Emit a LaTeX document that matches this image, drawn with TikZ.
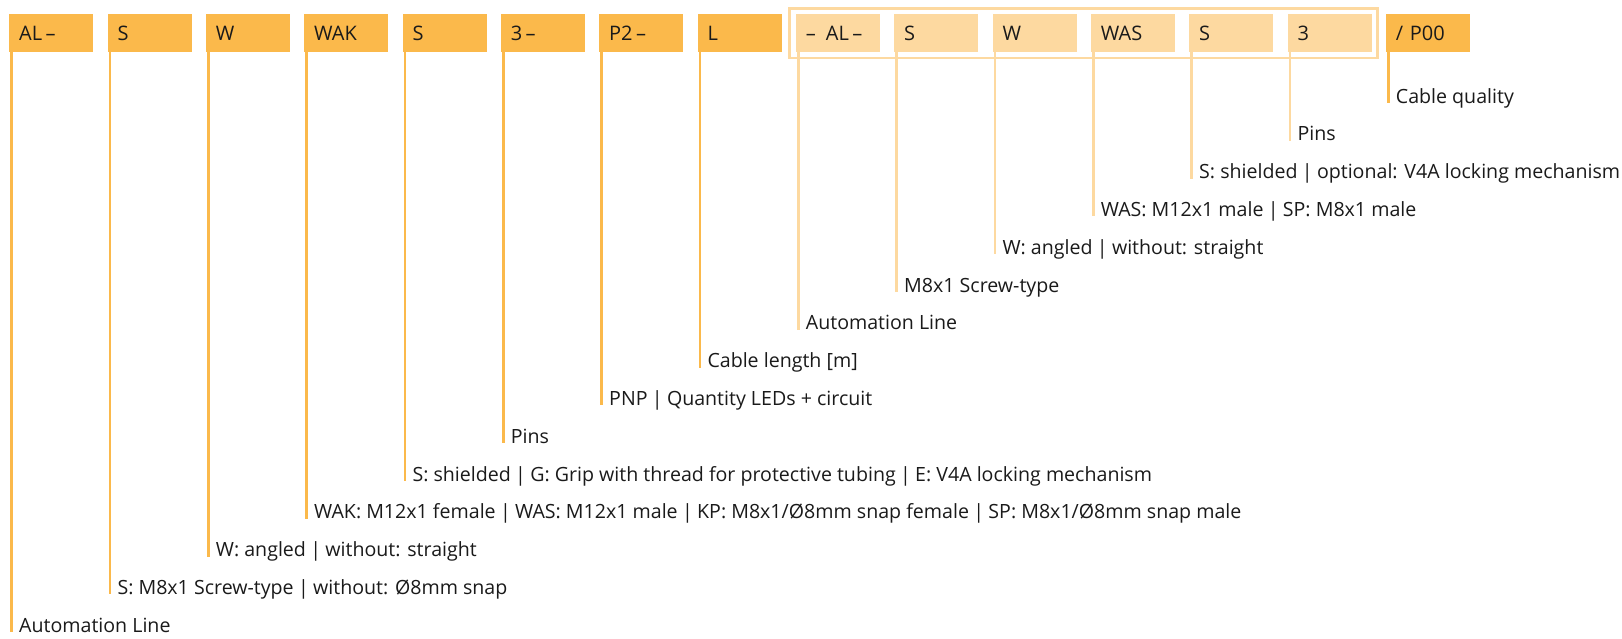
\documentclass[tikz,border=0pt]{standalone}
\usepackage{fontspec}
\setmainfont{Open Sans}
\usepackage{tikz}
\usetikzlibrary{calc,fit}

\definecolor{codedark}{HTML}{FBB94B}
\definecolor{codelight}{HTML}{FDD9A0}
\definecolor{codetext}{HTML}{1A1A1A}

\newcommand{\orbar}{\hspace{0.22em}|\hspace{0.22em}}

\tikzset{
  codebox/.style={anchor=north west, minimum width=84pt, minimum height=38pt,
    text width=64pt, inner xsep=10pt, inner ysep=0pt, text height=15pt, text depth=0pt,
    align=left, text=codetext, font=\fontsize{20}{24}\selectfont},
  darkbox/.style={codebox, fill=codedark},
  lightbox/.style={codebox, fill=codelight},
  expl/.style={anchor=base west, inner sep=0pt, text=codetext, font=\fontsize{19.6}{24}\selectfont},
  darkline/.style={draw=codedark, line width=2.6pt},
  lightline/.style={draw=codelight, line width=2.6pt},
}

\begin{document}
\begin{tikzpicture}[x=1pt,y=-1pt]
            \useasboundingbox (0,0) rectangle (1622,638);
            % code boxes
            \node[darkbox] (al) at (9,14) {AL\,--};
            \node[darkbox] (s) at (107.3,14) {S};
            \node[darkbox] (w) at (205.7,14) {W};
            \node[darkbox] (wak) at (304,14) {WAK};
            \node[darkbox] (s2) at (402.3,14) {S};
            \node[darkbox] (pin) at (500.7,14) {3\,--};
            \node[darkbox] (pnp) at (599,14) {P2\,--};
            \node[darkbox] (len) at (697.3,14) {L};
            \node[lightbox] (alb) at (795.7,14) {--\ \,AL\,--};
            \node[lightbox] (sb) at (894,14) {S};
            \node[lightbox] (wb) at (992.3,14) {W};
            \node[lightbox] (was) at (1090.7,14) {WAS};
            \node[lightbox] (sb2) at (1189,14) {S};
            \node[lightbox] (pinb) at (1287.3,14) {3};
            \node[darkbox] (qual) at (1385.7,14) {/ P00};
            % frame round the second plug
            \node[fit=(alb)(pinb), draw=codelight, line width=2.7pt, inner xsep=6pt, inner ysep=5.5pt] (plug) {};
            % explanations
            \node[expl] (lqual) at (1395.7,103) {Cable quality};
            \node[expl] (lpinb) at (1297.3,140.8) {Pins};
            \node[expl] (lsb2) at (1199,178.6) {S: shielded\orbar optional: V4A locking mechanism};
            \node[expl] (lwas) at (1100.7,216.4) {WAS: M12x1 male\orbar SP: M8x1 male};
            \node[expl] (lwb) at (1002.3,254.2) {W: angled\orbar without: straight};
            \node[expl] (lsb) at (904,292) {M8x1 Screw-type};
            \node[expl] (lalb) at (805.7,329.8) {Automation Line};
            \node[expl] (llen) at (707.3,367.6) {Cable length [m]};
            \node[expl] (lpnp) at (609,405.4) {PNP\orbar Quantity LEDs + circuit};
            \node[expl] (lpin) at (510.7,443.2) {Pins};
            \node[expl] (ls2) at (412.3,481) {S: shielded\orbar G: Grip with thread for protective tubing\orbar E: V4A locking mechanism};
            \node[expl] (lwak) at (314,518.8) {WAK: M12x1 female\orbar WAS: M12x1 male\orbar KP: M8x1/Ø8mm snap female\orbar SP: M8x1/Ø8mm snap male};
            \node[expl] (lw) at (215.7,556.6) {W: angled\orbar without: straight};
            \node[expl] (ls) at (117.3,594.4) {S: M8x1 Screw-type\orbar without: Ø8mm snap};
            \node[expl] (lal) at (19,632.2) {Automation Line};
            % lines
            \draw[darkline] ($(al.south west)+(2.5,0)$) -- ($(al.south west |- lal.base)+(2.5,0)$);
            \draw[darkline] ($(s.south west)+(2.5,0)$) -- ($(s.south west |- ls.base)+(2.5,0)$);
            \draw[darkline] ($(w.south west)+(2.5,0)$) -- ($(w.south west |- lw.base)+(2.5,0)$);
            \draw[darkline] ($(wak.south west)+(2.5,0)$) -- ($(wak.south west |- lwak.base)+(2.5,0)$);
            \draw[darkline] ($(s2.south west)+(2.5,0)$) -- ($(s2.south west |- ls2.base)+(2.5,0)$);
            \draw[darkline] ($(pin.south west)+(2.5,0)$) -- ($(pin.south west |- lpin.base)+(2.5,0)$);
            \draw[darkline] ($(pnp.south west)+(2.5,0)$) -- ($(pnp.south west |- lpnp.base)+(2.5,0)$);
            \draw[darkline] ($(len.south west)+(2.5,0)$) -- ($(len.south west |- llen.base)+(2.5,0)$);
            \draw[lightline] ($(alb.south west)+(2.5,0)$) -- ($(alb.south west |- lalb.base)+(2.5,0)$);
            \draw[lightline] ($(sb.south west)+(2.5,0)$) -- ($(sb.south west |- lsb.base)+(2.5,0)$);
            \draw[lightline] ($(wb.south west)+(2.5,0)$) -- ($(wb.south west |- lwb.base)+(2.5,0)$);
            \draw[lightline] ($(was.south west)+(2.5,0)$) -- ($(was.south west |- lwas.base)+(2.5,0)$);
            \draw[lightline] ($(sb2.south west)+(2.5,0)$) -- ($(sb2.south west |- lsb2.base)+(2.5,0)$);
            \draw[lightline] ($(pinb.south west)+(2.5,0)$) -- ($(pinb.south west |- lpinb.base)+(2.5,0)$);
            \draw[darkline] ($(qual.south west)+(2.5,0)$) -- ($(qual.south west |- lqual.base)+(2.5,0)$);
\end{tikzpicture}
\end{document}
